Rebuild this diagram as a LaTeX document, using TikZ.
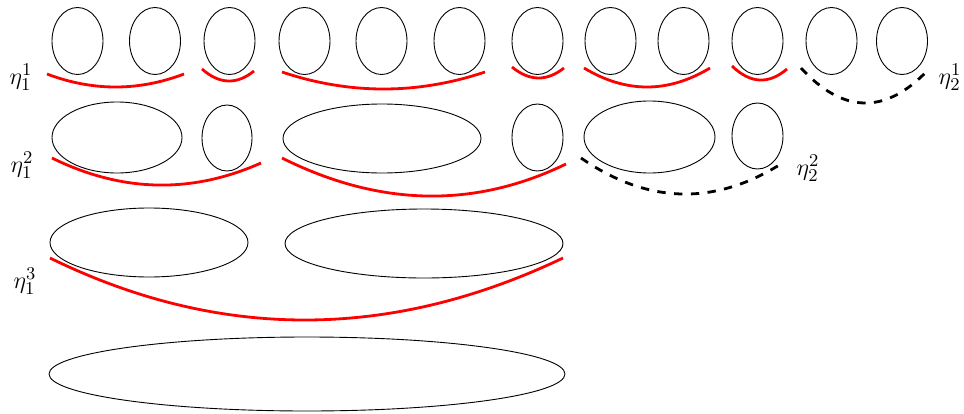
\documentclass[tikz,border=0pt]{standalone}
\usetikzlibrary{shapes.geometric,calc}
\begin{document}
\begin{tikzpicture}[x=0.5pt,y=-0.5pt,
  blob/.style={draw=black,line width=0.45pt,ellipse,inner sep=0pt,minimum width=#1},
  sm/.style={blob=25.5pt,minimum height=33.5pt},
  redarc/.style={draw=red,line width=1.4pt},
  blackarc/.style={draw=black,line width=1.4pt,dash pattern=on 4.2pt off 4.2pt},
  lab/.style={inner sep=0pt,font=\fontsize{12.7}{15}\selectfont}]
\useasboundingbox (0,0) rectangle (964,413);
% row 1
\foreach \n/\x in {1/77.5,2/155,3/229.5,4/304.5,5/381.5,6/459.5,7/537.5,8/610.5,9/683.5,10/757.5,11/831.5,12/902}
  \node[sm] (a\n) at (\x,41) {};
% row 2
\node[blob=65pt,minimum height=35.5pt] (b1) at (117,137.5) {};
\node[blob=25pt,minimum height=33pt] (b2) at (227,138) {};
\node[blob=99pt,minimum height=34.5pt] (b3) at (382,138.5) {};
\node[blob=25.5pt,minimum height=33.5pt] (b4) at (537.5,137.5) {};
\node[blob=65.5pt,minimum height=36pt] (b5) at (649.5,137) {};
\node[blob=25.5pt,minimum height=33pt] (b6) at (757.5,136) {};
% row 3
\node[blob=99pt,minimum height=34.5pt] (c1) at (149,242.5) {};
\node[blob=139pt,minimum height=34.5pt] (c2) at (424,243.5) {};
% row 4
\node[blob=258pt,minimum height=37pt] (d1) at (307,374) {};
% labels
\node[lab] (l11) at (21,77) {$\eta_1^1$};
\node[lab] (l21) at (950,77) {$\eta_2^1$};
\node[lab] (l12) at (22,165) {$\eta_1^2$};
\node[lab] (l22) at (808,168) {$\eta_2^2$};
\node[lab] (l13) at (25,281) {$\eta_1^3$};
% arc end points
\coordinate (r1s) at (47,74);   \coordinate (r1e) at (184,74);  \coordinate (r1q) at (115.5,100);
\coordinate (r2s) at (202,69);  \coordinate (r2e) at (254,71);  \coordinate (r2q) at (228,92);
\coordinate (r3s) at (282,72);  \coordinate (r3e) at (485,72);  \coordinate (r3q) at (383.5,106);
\coordinate (r4s) at (512,67);  \coordinate (r4e) at (564,68);  \coordinate (r4q) at (538,88.5);
\coordinate (r5s) at (584,68);  \coordinate (r5e) at (710,68);  \coordinate (r5q) at (647,106);
\coordinate (r6s) at (732,66);  \coordinate (r6e) at (787,69);  \coordinate (r6q) at (759.5,92.5);
\coordinate (k1s) at (801,68);  \coordinate (k1e) at (927,71);  \coordinate (k1q) at (864,136.5);
\coordinate (s1s) at (52,158);  \coordinate (s1e) at (261,163); \coordinate (s1q) at (156.5,209.5);
\coordinate (s2s) at (282,158); \coordinate (s2e) at (566,164); \coordinate (s2q) at (428,231);
\coordinate (k2s) at (581,158); \coordinate (k2e) at (784,162); \coordinate (k2q) at (682,228);
\coordinate (t1s) at (50,258);  \coordinate (t1e) at (563,258); \coordinate (t1q) at (303,382);
% arcs
\foreach \a in {r1,r2,r3,r4,r5,r6,s1,s2,t1}
  \draw[redarc] (\a s) .. controls ($(\a s)!2/3!(\a q)$) and ($(\a e)!2/3!(\a q)$) .. (\a e);
\foreach \a in {k1,k2}
  \draw[blackarc] (\a s) .. controls ($(\a s)!2/3!(\a q)$) and ($(\a e)!2/3!(\a q)$) .. (\a e);
\end{tikzpicture}
\end{document}
